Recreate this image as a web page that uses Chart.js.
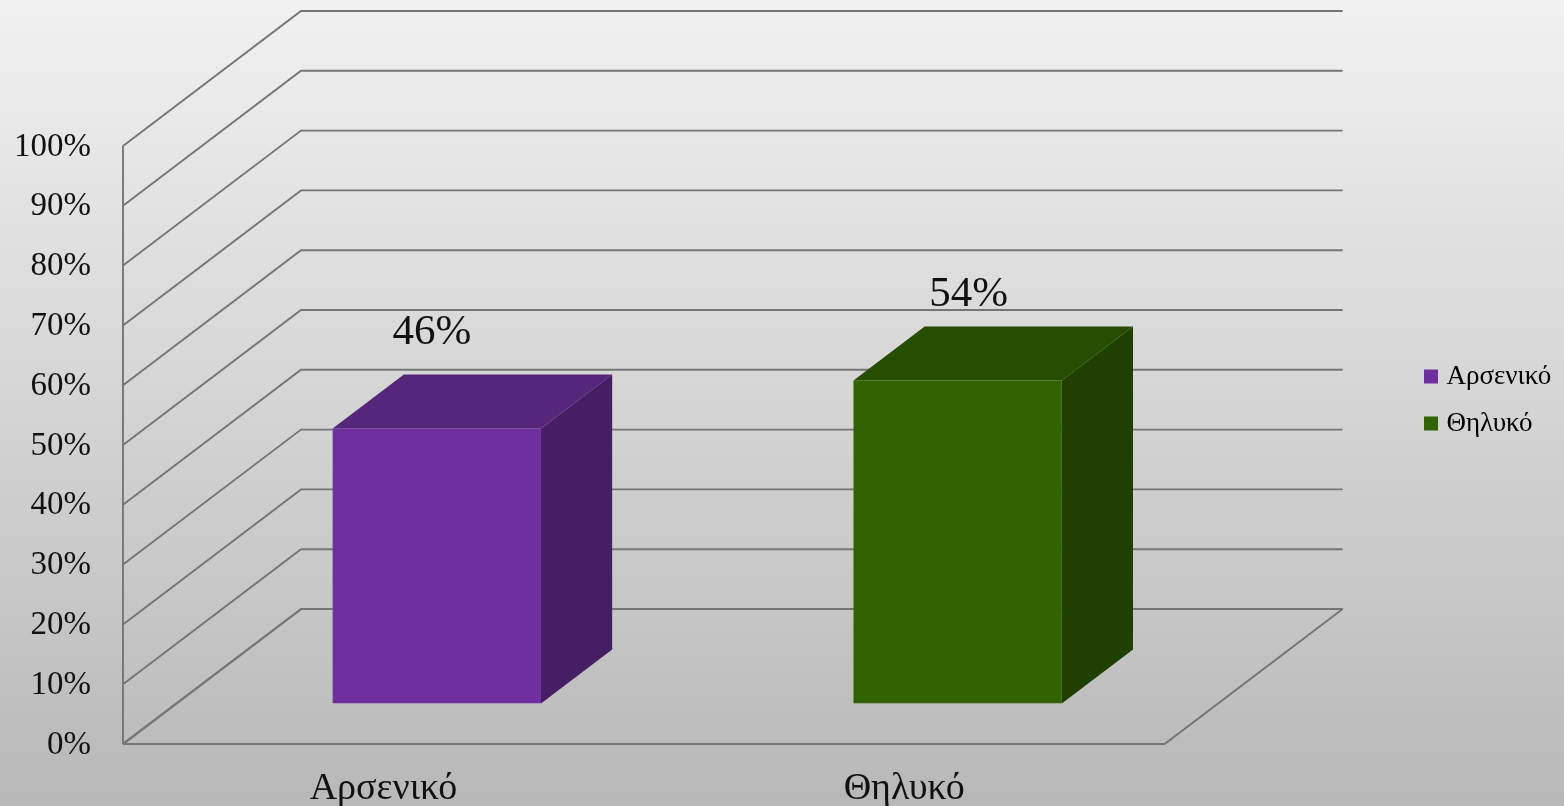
<!DOCTYPE html>
<html lang="el">
<head>
<meta charset="utf-8">
<title>Φύλο</title>
<script src="https://cdn.jsdelivr.net/npm/chart.js@4"></script>
<style>
    html, body { margin: 0; padding: 0; background: #d0d0d0; overflow: hidden; }
    canvas { display: block; }
</style>
</head>
<body>
<canvas id="genderChart" width="1564" height="806"></canvas>
<script>
const categories = ['Αρσενικό', 'Θηλυκό'];
const values = [46, 54];
const yTicks = [0, 10, 20, 30, 40, 50, 60, 70, 80, 90, 100];
const frontColors = ['#6f2f9f', '#316400'];
const topColors = ['#55267a', '#264e00'];
const sideColors = ['#461e66', '#1f4000'];

const FONT = '"Liberation Serif", serif';
const GRID = '#757575';
// how far the back wall sits from the front of the floor
const DEPTH_X = 178;
const DEPTH_Y = 135;
// bars stand between 30% and 70% of the depth
const BAR_FRONT = 0.3;
const BAR_BACK = 0.7;
// data labels were dragged by hand in the original
const labelNudgeX = [-5, 11];
const labelGapY = [30, 21];

const backgroundPlugin = {
    id: 'background',
    beforeDraw(chart) {
        const { ctx, width, height } = chart;
        const g = ctx.createLinearGradient(0, 0, 0, height);
        g.addColorStop(0, '#f1f1f1');
        g.addColorStop(1, '#b8b8b8');
        ctx.save();
        ctx.fillStyle = g;
        ctx.fillRect(0, 0, width, height);
        ctx.restore();
    }
};

function strokeLine(ctx, points, lineWidth) {
    ctx.lineWidth = lineWidth;
    ctx.beginPath();
    points.forEach((p, i) => (i ? ctx.lineTo(p[0], p[1]) : ctx.moveTo(p[0], p[1])));
    ctx.stroke();
}

function fillPoly(ctx, points, color) {
    ctx.fillStyle = color;
    ctx.beginPath();
    points.forEach((p, i) => (i ? ctx.lineTo(p[0], p[1]) : ctx.moveTo(p[0], p[1])));
    ctx.closePath();
    ctx.fill();
}

// 3D look: walls and floor first, then the side/top faces, the library draws the front faces
const box3dPlugin = {
    id: 'box3d',
    beforeDatasetsDraw(chart) {
        const { ctx, scales: { y }, chartArea: { left, right } } = chart;
        const zero = y.getPixelForValue(0);
        const top = y.getPixelForValue(100);
        const backLeft = left + DEPTH_X;
        const backRight = right + DEPTH_X;

        ctx.save();
        ctx.strokeStyle = GRID;
        yTicks.forEach(v => {
            const py = y.getPixelForValue(v);
            strokeLine(ctx, [[left, py], [backLeft, py - DEPTH_Y], [backRight, py - DEPTH_Y]], v === 0 ? 2.2 : 1.9);
        });
        strokeLine(ctx, [[left, top], [left, zero]], 1.9);
        strokeLine(ctx, [[left, zero], [right, zero], [backRight, zero - DEPTH_Y]], 1.9);
        ctx.restore();

        const depthX = DEPTH_X * (BAR_BACK - BAR_FRONT);
        const depthY = DEPTH_Y * (BAR_BACK - BAR_FRONT);
        ctx.save();
        ctx.translate(DEPTH_X * BAR_FRONT, -DEPTH_Y * BAR_FRONT);
        chart.getDatasetMeta(0).data.forEach((bar, i) => {
            const l = bar.x - bar.width / 2;
            const r = bar.x + bar.width / 2;
            fillPoly(ctx, [[r, bar.y], [r + depthX, bar.y - depthY], [r + depthX, bar.base - depthY], [r, bar.base]], sideColors[i]);
            fillPoly(ctx, [[l, bar.y], [l + depthX, bar.y - depthY], [r + depthX, bar.y - depthY], [r, bar.y]], topColors[i]);
        });
        // leave the translate on for the front faces
    },
    afterDatasetsDraw(chart) {
        const { ctx } = chart;
        ctx.restore();

        const depthY = DEPTH_Y * BAR_BACK;
        ctx.save();
        ctx.fillStyle = '#111111';
        ctx.font = '43px ' + FONT;
        ctx.textAlign = 'center';
        ctx.textBaseline = 'alphabetic';
        chart.getDatasetMeta(0).data.forEach((bar, i) => {
            ctx.fillText(values[i] + '%', bar.x + DEPTH_X * BAR_FRONT + labelNudgeX[i], bar.y - depthY - labelGapY[i]);
        });
        ctx.restore();
    },
    // the legend sits higher than the plot's middle, and at a fixed left edge
    afterLayout(chart) {
        chart.legend.left = 1409;
        chart.legend.right = 1564;
        chart.legend.top = 0;
        chart.legend.bottom = 800;
    }
};

new Chart(document.getElementById('genderChart'), {
    type: 'bar',
    data: {
        labels: categories,
        datasets: [{
            data: values,
            backgroundColor: frontColors,
            categoryPercentage: 1,
            barPercentage: 0.4
        }]
    },
    options: {
        responsive: false,
        animation: false,
        layout: { padding: { top: 146, right: 247, left: 0, bottom: 0 } },
        plugins: {
            tooltip: { enabled: false },
            legend: {
                position: 'right',
                labels: {
                    // small box plus a thick stroke: keeps the 14px swatch but a tight gap before the text
                    boxWidth: 4,
                    boxHeight: 4,
                    padding: 20,
                    color: '#111111',
                    font: { family: FONT, size: 27 },
                    generateLabels: () => categories.map((c, i) => ({
                        text: c,
                        fillStyle: frontColors[i],
                        strokeStyle: frontColors[i],
                        lineWidth: 10,
                        index: i
                    }))
                }
            }
        },
        scales: {
            x: {
                grid: { display: false, drawTicks: false },
                border: { display: false },
                ticks: { color: '#111111', padding: 22, maxRotation: 0, font: { family: FONT, size: 38 } },
                afterFit: s => { s.height = 62; }
            },
            y: {
                min: 0,
                max: 100,
                grid: { display: false, drawTicks: false },
                border: { display: false },
                ticks: {
                    stepSize: 10,
                    color: '#111111',
                    padding: 32,
                    labelOffset: 1,
                    font: { family: FONT, size: 33 },
                    callback: v => v + '%'
                },
                afterFit: s => { s.width = 123; }
            }
        }
    },
    plugins: [backgroundPlugin, box3dPlugin]
});
</script>
</body>
</html>
